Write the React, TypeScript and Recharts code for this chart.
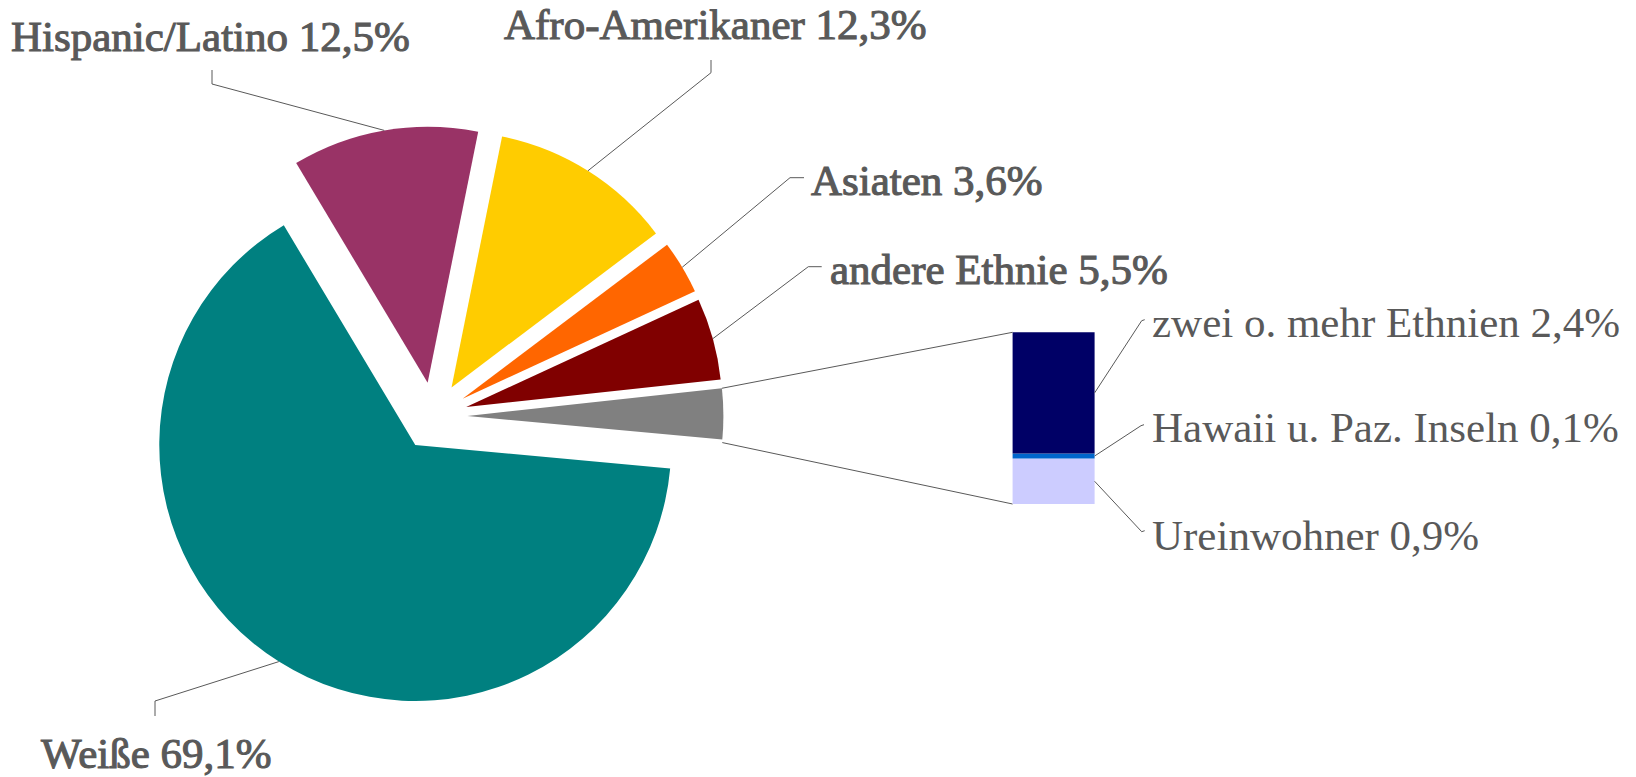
import React from "react";
import { PieChart, Pie, Cell, Sector, BarChart, Bar, XAxis, YAxis, LabelList } from "recharts";

const W = 1636;
const H = 777;
const FONT = '"Liberation Serif", serif';
const TEXT = "#595959";

// pie slices (clockwise from 3 o'clock)
const pieNames = ["Weiße", "Hispanic/Latino", "Afro-Amerikaner", "Asiaten", "andere Ethnie"];
const pieValues = [69.1, 12.5, 12.3, 3.6, 5.5];
const pieColors = ["#008080", "#993366", "#FFCC00", "#FF6600", "#800000", "#808080"];

// secondary stacked bar (top to bottom)
const barNames = ["zwei o. mehr Ethnien", "Hawaii u. Paz. Inseln", "Ureinwohner"];
const barValues = [2.4, 0.1, 0.9];
const barColors = ["#000066", "#0066CC", "#CCCCFF"];

const otherValue = barValues.reduce((a, b) => a + b, 0);
const pieData = [
  ...pieNames.map((name, i) => ({ name, value: pieValues[i] })),
  { name: "Sonstige", value: otherValue },
];
const barRow: Record<string, string | number> = { name: "Sonstige" };
barValues.forEach((v, i) => (barRow["b" + i] = v));
const barData = [barRow];

// layout
const PIE_CX = 433.4;
const PIE_CY = 416.2;
const PIE_R = 256;
const EXPLODE = 34;
const BAR_BOX = { left: 1012.6, top: 332.3, right: 1094.4, bottom: 504 };

const pieLabelPos = [
  { elbow: [155, 701], hook: [155, 716], text: [41, 768.3] },
  { elbow: [212, 84], hook: [212, 70], text: [11, 50.7] },
  { elbow: [711, 72.7], hook: [711, 60], text: [504, 39.3] },
  { elbow: [790, 177.7], hook: [804, 177.7], text: [811, 195] },
  { elbow: [808.3, 266.7], hook: [821.7, 266.7], text: [830, 284] },
];
const barLabelPos = [
  { end: [1141.7, 320.7], text: [1152, 336.7] },
  { end: [1141, 425.7], text: [1152, 441.7] },
  { end: [1141.7, 531.7], text: [1152, 550] },
];

const RAD = Math.PI / 180;
const fmt = (v: number) => v.toFixed(1).replace(".", ",") + "%";

const ExplodedSector = (props: any) => {
  const { cx, cy, midAngle, startAngle, endAngle, outerRadius } = props;
  const ox = cx + EXPLODE * Math.cos(-midAngle * RAD);
  const oy = cy + EXPLODE * Math.sin(-midAngle * RAD);
  const sector = <Sector {...props} cx={ox} cy={oy} stroke="none" />;
  const name = props.payload?.name ?? props.name;
  if (name !== "Sonstige") return sector;
  const hi = Math.max(startAngle, endAngle);
  const lo = Math.min(startAngle, endAngle);
  const x1 = ox + outerRadius * Math.cos(-hi * RAD);
  const y1 = oy + outerRadius * Math.sin(-hi * RAD);
  const x2 = ox + outerRadius * Math.cos(-lo * RAD);
  const y2 = oy + outerRadius * Math.sin(-lo * RAD);
  return (
    <g>
      {sector}
      <line x1={x1} y1={y1} x2={BAR_BOX.left} y2={BAR_BOX.top} stroke={TEXT} strokeWidth={1} />
      <line x1={x2} y1={y2 + 3} x2={BAR_BOX.left} y2={BAR_BOX.bottom} stroke={TEXT} strokeWidth={1} />
    </g>
  );
};

const renderPieLabel = (props: any) => {
  const { cx, cy, midAngle, outerRadius, index, value } = props;
  if (index >= pieNames.length) return null;
  const pos = pieLabelPos[index];
  const ax = cx + (outerRadius + EXPLODE) * Math.cos(-midAngle * RAD);
  const ay = cy + (outerRadius + EXPLODE) * Math.sin(-midAngle * RAD);
  return (
    <g>
      <polyline
        points={`${ax},${ay} ${pos.elbow[0]},${pos.elbow[1]} ${pos.hook[0]},${pos.hook[1]}`}
        fill="none"
        stroke={TEXT}
        strokeWidth={1}
      />
      <text
        x={pos.text[0]}
        y={pos.text[1]}
        fill={TEXT}
        stroke={TEXT}
        strokeWidth={1.1}
        fontFamily={FONT}
        fontSize={43}
      >
        {pieNames[index] + " " + fmt(value)}
      </text>
    </g>
  );
};

const makeBarLabel = (i: number) => (props: any) => {
  const { x, y, width, height, value } = props;
  const pos = barLabelPos[i];
  const sx = x + width;
  const sy = y + height / 2;
  return (
    <g>
      <polyline
        points={`${sx},${sy} ${pos.end[0]},${pos.end[1]} ${pos.end[0] + 3},${pos.end[1] - 1}`}
        fill="none"
        stroke={TEXT}
        strokeWidth={1}
      />
      <text x={pos.text[0]} y={pos.text[1]} fill={TEXT} fontFamily={FONT} fontSize={43}>
        {barNames[i] + " " + fmt(value)}
      </text>
    </g>
  );
};

export default function App() {
  const stackOrder = [2, 1, 0];
  return (
    <div style={{ position: "absolute", left: 0, top: 0, width: W, height: H, background: "#fff" }}>
      <div style={{ position: "absolute", left: 0, top: 0 }}>
        <PieChart width={W} height={H} margin={{ top: 0, right: 0, bottom: 0, left: 0 }}>
          <Pie
            data={pieData}
            dataKey="value"
            nameKey="name"
            cx={PIE_CX}
            cy={PIE_CY}
            outerRadius={PIE_R}
            startAngle={-5.3}
            endAngle={-365.3}
            stroke="none"
            isAnimationActive={false}
            shape={ExplodedSector}
            activeShape={ExplodedSector}
            inactiveShape={ExplodedSector}
            label={renderPieLabel}
            labelLine={false}
          >
            {pieData.map((d, i) => (
              <Cell key={d.name} fill={pieColors[i]} />
            ))}
          </Pie>
        </PieChart>
      </div>
      <div style={{ position: "absolute", left: 0, top: 0 }}>
        <BarChart
          width={W}
          height={H}
          data={barData}
          margin={{
            top: BAR_BOX.top,
            bottom: H - BAR_BOX.bottom,
            left: BAR_BOX.left,
            right: W - BAR_BOX.right,
          }}
          barCategoryGap={0}
          barGap={0}
        >
          <XAxis dataKey="name" hide />
          <YAxis hide domain={[0, otherValue]} />
          {stackOrder.map((i) => (
            <Bar key={i} dataKey={"b" + i} stackId="a" fill={barColors[i]} isAnimationActive={false}>
              <LabelList dataKey={"b" + i} content={makeBarLabel(i)} />
            </Bar>
          ))}
        </BarChart>
      </div>
    </div>
  );
}
